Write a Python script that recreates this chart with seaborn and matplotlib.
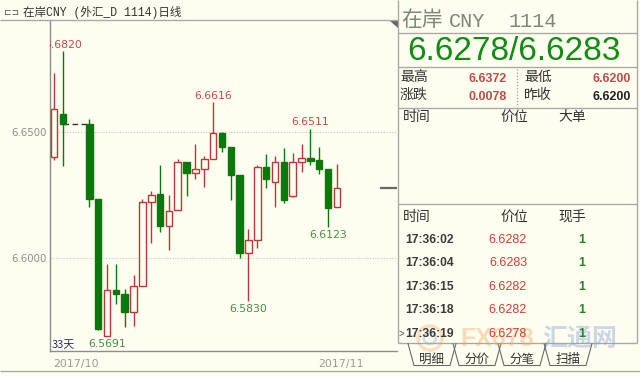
import matplotlib
matplotlib.use("Agg")
import matplotlib.pyplot as plt
import matplotlib.transforms as mtransforms
from matplotlib.patches import Polygon, Circle
import seaborn as sns
import pandas as pd

# ---------------- data ----------------
slots = [0, 1, 4, 5, 6, 7, 8, 9, 10, 11, 12, 13, 14, 15, 16, 17, 18, 19, 20, 21,
         22, 23, 24, 25, 26, 27, 28, 29, 30, 31, 32]
opens = [6.6398, 6.6570, 6.6531, 6.6233, 6.5691, 6.5872, 6.5856, 6.5786, 6.5888, 6.6220,
         6.6252, 6.6126, 6.6189, 6.6380, 6.6335, 6.6351, 6.6390, 6.6496, 6.6440, 6.6327,
         6.6020, 6.6070, 6.6359, 6.6302, 6.6379, 6.6246, 6.6379, 6.6397, 6.6388, 6.6352,
         6.6200]
highs = [6.6732, 6.6820, 6.6550, 6.6233, 6.5975, 6.5975, 6.5876, 6.5931, 6.6233, 6.6266,
         6.6368, 6.6249, 6.6390, 6.6380, 6.6450, 6.6404, 6.6616, 6.6500, 6.6440, 6.6330,
         6.6113, 6.6368, 6.6410, 6.6404, 6.6434, 6.6417, 6.6450, 6.6511, 6.6438, 6.6352,
         6.6372]
lows = [6.6388, 6.6365, 6.6202, 6.5712, 6.5691, 6.5816, 6.5726, 6.5729, 6.5887, 6.6057,
        6.6103, 6.6031, 6.6189, 6.6245, 6.6311, 6.6282, 6.6390, 6.6418, 6.6229, 6.6000,
        6.5830, 6.6040, 6.6278, 6.6202, 6.6216, 6.6240, 6.6341, 6.6368, 6.6332, 6.6123,
        6.6200]
closes = [6.6589, 6.6531, 6.6233, 6.5716, 6.5872, 6.5856, 6.5786, 6.5888, 6.6220, 6.6249,
          6.6126, 6.6187, 6.6380, 6.6335, 6.6351, 6.6390, 6.6496, 6.6440, 6.6327, 6.6020,
          6.6070, 6.6361, 6.6312, 6.6379, 6.6229, 6.6379, 6.6397, 6.6385, 6.6351, 6.6198,
          6.6278]
high_label_slots = [1, 18, 29]
low_label_slots = [6, 22, 31]
ytick_values = [6.6000, 6.6500]
month_tick_slots = [31.56]
month_labels = ["2017/10", "2017/11"]
last_price = 6.6278

title_text = "在岸CNY (外汇_D 1114)日线"
quote_text = "6.6278/6.6283"
stat_labels = [["最高", "最低"], ["涨跌", "昨收"]]
stat_values = [["6.6372", "6.6200"], ["0.0078", "6.6200"]]
tick_times = ["17:36:02", "17:36:04", "17:36:15", "17:36:18", "17:36:19"]
tick_prices = ["6.6282", "6.6283", "6.6282", "6.6282", "6.6278"]
tick_volumes = ["1", "1", "1", "1", "1"]
tab_names = ["明细", "分价", "分笔", "扫描"]

# ---------------- style ----------------
BG = "#FEFEF0"
RED = "#B8383A"
GREEN = "#0B780B"
LRED = "#C44A4A"
LGREEN = "#4A8C4A"
GTXT = "#8C8C8C"
LINE = "#A8A8A8"
DARK = "#333333"

sns.set_theme(style="white")
plt.rcParams["font.family"] = ["DejaVu Sans", "Noto Sans CJK SC"]
CJK = ["Noto Sans CJK SC", "DejaVu Sans"]
MIX = ["Liberation Mono", "Noto Sans CJK SC"]

W, H = 640, 376
fig = plt.figure(figsize=(6.4, 3.76), dpi=100, facecolor=BG)


def px_rect(x0, y0, x1, y1):
    return [x0 / W, 1 - y1 / H, (x1 - x0) / W, (y1 - y0) / H]


ax = fig.add_axes(px_rect(50, 20, 397, 351))
ax.set_facecolor(BG)

df = pd.DataFrame(dict(slot=slots, open=opens, high=highs, low=lows, close=closes))
df["up"] = df["close"] >= df["open"]
col = [RED if u else GREEN for u in df["up"]]

# gap connector (holiday)
sns.lineplot(x=[slots[1], slots[2]], y=[closes[1], closes[1]], ax=ax,
             color="#333333", linewidth=1.0, linestyle=(0, (4, 2.5)), zorder=1)

# wicks
ax.vlines(df["slot"], df["low"], df["high"], colors=col, linewidth=1.0, zorder=2)
# bodies
bottoms = df[["open", "close"]].min(axis=1)
heights = (df["close"] - df["open"]).abs().clip(lower=0.00035)
ax.bar(df["slot"], heights, bottom=bottoms, width=0.74,
       color=[BG if u else GREEN for u in df["up"]],
       edgecolor=col, linewidth=1.0, zorder=3)

# high / low labels
px = 72.0 / 100.0
for s in high_label_slots:
    i = slots.index(s)
    tr = mtransforms.offset_copy(ax.transData, fig=fig, x=0, y=3.5 * px, units="points")
    t = ax.text(s, highs[i], f"{highs[i]:.4f}", transform=tr, ha="center", va="baseline",
                fontsize=7.8, color=LRED, zorder=4)
    t.set_clip_on(True)
for s in low_label_slots:
    i = slots.index(s)
    tr = mtransforms.offset_copy(ax.transData, fig=fig, x=0, y=-3.5 * px, units="points")
    ax.text(s, lows[i], f"{lows[i]:.4f}", transform=tr, ha="center", va="top",
            fontsize=7.8, color=LGREEN, zorder=4)

# last price marker at right edge
ax.plot([0.951, 1.0], [last_price, last_price], transform=ax.get_yaxis_transform(),
        color="#666666", linewidth=1.6, solid_capstyle="butt", zorder=4, clip_on=False)

ax.set_xlim(-0.4525, 38.80)
ax.set_ylim(6.56298, 6.69432)
ax.set_yticks(ytick_values)
ax.set_yticklabels([f"{v:.4f}" for v in ytick_values])
ax.tick_params(axis="y", length=0, pad=2.2, labelsize=7.3, labelcolor=GTXT)
ax.set_xticks(month_tick_slots)
ax.set_xticklabels([""] * len(month_tick_slots))
ax.tick_params(axis="x", direction="in", length=6, width=1, color="#777777")
ax.yaxis.grid(True, linestyle=(0, (1, 1.5)), color="#C6C6C6", linewidth=0.8)
ax.xaxis.grid(False)
ax.set_axisbelow(True)
for side in ["top", "right"]:
    ax.spines[side].set_visible(False)
for side in ["left", "bottom"]:
    ax.spines[side].set_color("#8C8C8C")
    ax.spines[side].set_linewidth(1.0)
ax.set_xlabel("")
ax.set_ylabel("")

# ---------------- overlay in pixel coords ----------------
ov = fig.add_axes([0, 0, 1, 1], zorder=5)
ov.set_xlim(0, W)
ov.set_ylim(H, 0)
ov.axis("off")


def hline(y, x0, x1, **kw):
    ov.plot([x0, x1], [y, y], solid_capstyle="butt", **kw)


def vline(x, y0, y1, **kw):
    ov.plot([x, x], [y0, y1], solid_capstyle="butt", **kw)


hline(20, 0, 398, color=LINE, lw=1.0)
vline(398, 0, 343, color=LINE, lw=1.0)
vline(636.5, 0, 343, color=LINE, lw=1.0)
for yy in [32.5, 67, 107.5, 204, 343]:
    hline(yy, 398, 636.5, color=LINE, lw=1.0)
vline(517, 69, 105, color="#999999", lw=0.9, linestyle=(0, (1, 1.5)))
hline(370.5, 0, 640, color=LINE, lw=1.0)
ov.add_patch(Polygon([(390, 20.5), (397.5, 20.5), (397.5, 28)], closed=True,
                     facecolor="#666666", edgecolor="none"))

# chart header
ov.text(4, 12.5, "⊏⊐", fontsize=6.5, color="#555555", va="center", ha="left")
ov.text(23, 12.5, title_text, family=MIX, fontsize=8.3, color=DARK, va="center", ha="left")

# chart bottom texts
ov.text(52, 348, "33天", fontsize=8, color="#2E2E7A", va="baseline", ha="left", family=CJK)
ov.text(52.7, 366.5, month_labels[0], fontsize=7.9, color="#9A9A9A", va="baseline", ha="left")
ov.text(340.7, 366.5, month_labels[1], fontsize=7.9, color="#9A9A9A", va="baseline", ha="center")

# watermark (faint)
ov.add_patch(Circle((430, 338), 12, fill=False, ec="#F0A868", lw=2.5, alpha=0.35))
ov.add_patch(Circle((430, 338), 6, fill=False, ec="#8FAADC", lw=2, alpha=0.35))
ov.text(460, 339, "FX678", family="Liberation Sans", fontweight="bold", fontsize=18,
        color="#F3A85E", alpha=0.4, va="center", ha="left")
ov.text(542, 339, "汇通网", family=CJK, fontweight="bold", fontsize=18,
        color="#7F9ED6", alpha=0.4, va="center", ha="left")

# panel title
ov.text(401, 19.5, "在岸", family=CJK, fontsize=15, color="#7A877A", va="center", ha="left")
ov.text(449, 27.3, "CNY", family="Liberation Mono", fontsize=14.5, color="#7A877A",
        va="baseline", ha="left")
ov.text(509, 27.3, "1114", family="Liberation Mono", fontsize=14.5, color="#7A877A",
        va="baseline", ha="left")

# big quote
ov.text(514, 59.5, quote_text, family="Liberation Sans", fontsize=24, color="#128C12",
        va="baseline", ha="center")

# stats
stat_y_cjk = [77, 95]
stat_y_num = [81.7, 100]
stat_colors = [[LRED, LRED], [LRED, "#222222"]]
for r in range(2):
    ov.text(400, stat_y_cjk[r], stat_labels[r][0], family=CJK, fontsize=10, color=DARK,
            va="center", ha="left")
    ov.text(524, stat_y_cjk[r], stat_labels[r][1], family=CJK, fontsize=10, color=DARK,
            va="center", ha="left")
    ov.text(506.7, stat_y_num[r], stat_values[r][0], family="Liberation Sans",
            fontweight="bold", fontsize=9, color=stat_colors[r][0], va="baseline", ha="right")
    ov.text(631, stat_y_num[r], stat_values[r][1], family="Liberation Sans",
            fontweight="bold", fontsize=9, color=stat_colors[r][1], va="baseline", ha="right")

# big order header
for x, s in [(403, "时间"), (500, "价位"), (558, "大单")]:
    ov.text(x, 116.5, s, family=CJK, fontsize=10, color=DARK, va="center", ha="left")
# tick header
for x, s in [(403, "时间"), (500, "价位"), (558, "现手")]:
    ov.text(x, 216.7, s, family=CJK, fontsize=10, color=DARK, va="center", ha="left")

# tick rows
for i, (tt, pp, vv) in enumerate(zip(tick_times, tick_prices, tick_volumes)):
    yb = 242.8 + 23.5 * i
    ov.text(405, yb, tt, family="Liberation Sans", fontweight="bold", fontsize=8.7,
            color="#3A3A3A", va="baseline", ha="left")
    ov.text(527, yb, pp, family="Liberation Sans", fontsize=9, color="#D23C3C",
            va="baseline", ha="right")
    ov.text(582, yb, vv, family="Liberation Sans", fontweight="bold", fontsize=9,
            color="#1F8A1F", va="baseline", ha="center")
ov.text(398.5, 242.8 + 23.5 * 4, ">", family="Liberation Sans", fontsize=7,
        color="#555555", va="baseline", ha="left")

# tabs
tab_centers = [432, 477, 522, 568]
for c, name in zip(tab_centers, tab_names):
    x0, x1 = c - 24, c + 24
    ov.plot([x0, x0 + 6, x1 - 6, x1], [343.5, 365.5, 365.5, 343.5], color="#6A6A6A", lw=0.8)
    ov.text(c, 359.5, name, family=CJK, fontsize=9, color=DARK, va="center", ha="center")

fig.savefig("out.png", dpi=100, facecolor=BG)
